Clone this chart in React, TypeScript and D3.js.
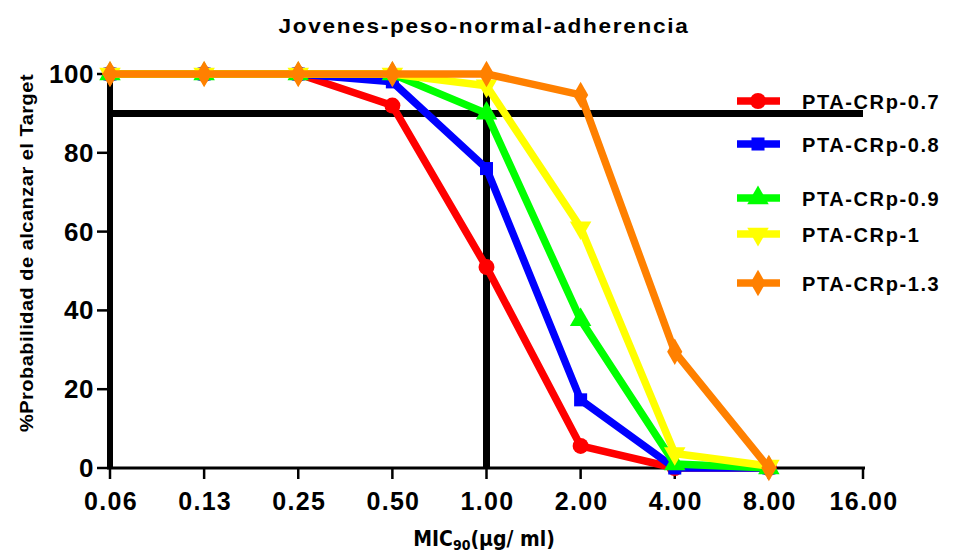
import React from 'react';
import * as d3 from 'd3';

const title = 'Jovenes-peso-normal-adherencia';
const micLabels = ['0.06', '0.13', '0.25', '0.50', '1.00', '2.00', '4.00', '8.00', '16.00'];
const yTicks = [0, 20, 40, 60, 80, 100];

const seriesNames = ['PTA-CRp-0.7', 'PTA-CRp-0.8', 'PTA-CRp-0.9', 'PTA-CRp-1', 'PTA-CRp-1.3'];
const seriesColors = ['#ff0000', '#0000ff', '#00ff00', '#ffff00', '#ff8000'];
const seriesShapes = [d3.symbolCircle, d3.symbolSquare, d3.symbolTriangle, d3.symbolTriangle, d3.symbolDiamond];
const seriesFlip = [false, false, false, true, false];

// values for MIC 0.06 .. 8.00
const cr07 = [100, 100, 100, 92, 51, 5.6, 0, 0];
const cr08 = [100, 100, 100, 98, 76, 17.3, 0, 0];
const cr09 = [100, 100, 100, 100, 90, 37.6, 1, 0];
const cr1 = [100, 100, 100, 100, 97, 61, 3.7, 0.5];
const cr13 = [100, 100, 100, 100, 100, 94.7, 29.5, 0];
const seriesValues = [cr07, cr08, cr09, cr1, cr13];

const targetLine = 90;
const micRef = '1.00';

const legendY = [101, 144, 198, 234, 283];

const W = 957;
const H = 557;

const App = () => {
  const x = d3.scalePoint<string>().domain(micLabels).range([110, 863]);
  const y = d3.scaleLinear().domain([0, 100]).range([468, 74]);
  const line = d3.line<number>()
    .x((_, i) => x(micLabels[i]) as number)
    .y(d => y(d));

  const marker = (i: number) => d3.symbol().type(seriesShapes[i]).size(i === 1 ? 170 : 200)();

  return (
    <svg width={W} height={H} style={{ position: 'absolute', left: 0, top: 0 }}>
      <rect width={W} height={H} fill="#fff" />
      <g transform="translate(484,33) scale(1.13,1)">
        <text x={0} y={0} textAnchor="middle" fontFamily="Liberation Sans, Arial" fontWeight="bold" fontSize={20}
          letterSpacing={1.5}>
          {title}
        </text>
      </g>

      {/* reference lines */}
      <line x1={110} x2={863} y1={y(targetLine)} y2={y(targetLine)} stroke="#000" strokeWidth={7} />
      <line x1={x(micRef)} x2={x(micRef)} y1={y(100)} y2={y(0)} stroke="#000" strokeWidth={7} />

      {/* axes */}
      <line x1={110} x2={110} y1={y(100) - 1} y2={y(0) + 1} stroke="#000" strokeWidth={6} />
      <line x1={107} x2={865} y1={y(0)} y2={y(0)} stroke="#000" strokeWidth={3} />
      {yTicks.map(t => (
        <g key={t}>
          <line x1={97} x2={110} y1={y(t)} y2={y(t)} stroke="#000" strokeWidth={2.5} />
          <text x={94} y={y(t) + 9} textAnchor="end" fontFamily="Liberation Sans, Arial" fontWeight="bold" fontSize={26}
            letterSpacing={0.5}>
            {t}
          </text>
        </g>
      ))}
      {micLabels.map(m => (
        <g key={m}>
          <line x1={x(m)} x2={x(m)} y1={y(0)} y2={y(0) + 11} stroke="#000" strokeWidth={2.5} />
          <text x={(x(m) as number) + 1} y={510} textAnchor="middle" fontFamily="Liberation Sans, Arial" fontWeight="bold" fontSize={25}
            letterSpacing={1.3}>
            {m}
          </text>
        </g>
      ))}
      <text x={484} y={546} textAnchor="middle" fontFamily="DejaVu Sans Condensed, DejaVu Sans" fontWeight="bold" fontSize={21}>
        MIC<tspan fontSize={14} dy={4}>90</tspan><tspan dy={-4}>(µg/ ml)</tspan>
      </text>
      <g transform="translate(33,253) rotate(-90) scale(1.05,1)">
        <text x={0} y={0} textAnchor="middle" fontFamily="Liberation Sans, Arial" fontWeight="bold" fontSize={19}
          letterSpacing={0.5}>
          %Probabilidad de alcanzar el Target
        </text>
      </g>

      {/* series */}
      {seriesValues.map((vals, i) => (
        <g key={seriesNames[i]}>
          <path d={line(vals) || ''} fill="none" stroke={seriesColors[i]} strokeWidth={7.5} strokeLinejoin="round" />
          {vals.map((v, j) => (
            <path key={j} d={marker(i) || ''} fill={seriesColors[i]}
              transform={`translate(${x(micLabels[j])},${y(v)})${seriesFlip[i] ? ' rotate(180)' : ''}`} />
          ))}
        </g>
      ))}

      {/* legend */}
      {seriesNames.map((n, i) => (
        <g key={n}>
          <line x1={737} x2={780} y1={legendY[i]} y2={legendY[i]} stroke={seriesColors[i]} strokeWidth={7.5} />
          <path d={marker(i) || ''} fill={seriesColors[i]}
            transform={`translate(758,${legendY[i]})${seriesFlip[i] ? ' rotate(180)' : ''}`} />
          <text x={802} y={legendY[i] + 8} fontFamily="Liberation Sans, Arial" fontWeight="bold" fontSize={20}
            letterSpacing={1.6}>
            {n}
          </text>
        </g>
      ))}
    </svg>
  );
};

export default App;
